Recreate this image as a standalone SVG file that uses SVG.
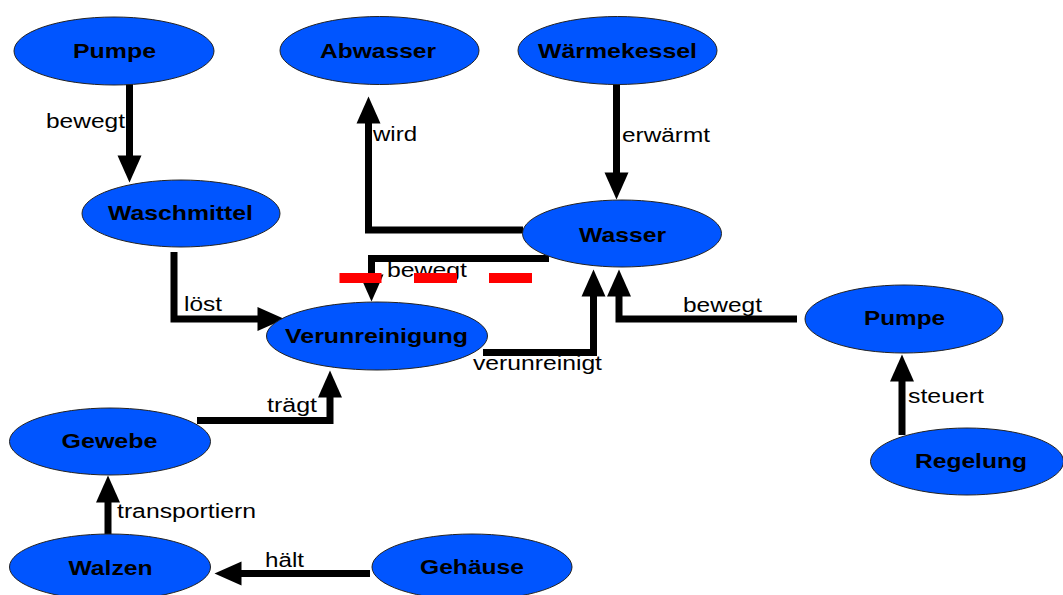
<svg xmlns="http://www.w3.org/2000/svg" width="1063" height="595" viewBox="0 0 1063 595">
  <style>
    .node ellipse { fill: #0055ff; stroke: #222; stroke-width: 1; }
    .node text { font-family: "Liberation Sans", Arial, sans-serif; font-weight: bold; font-size: 21px; fill: #000; }
    .edge { fill: none; stroke: #000; stroke-width: 7; stroke-linejoin: miter; stroke-linecap: butt; marker-end: url(#arrow); }
    .label { font-family: "Liberation Sans", Arial, sans-serif; font-size: 20px; fill: #000; }
    .mark { fill: #ff0000; }
  </style>
  <defs>
    <marker id="arrow" markerUnits="userSpaceOnUse" viewBox="0 -13 28 26" refX="0.5" refY="0" markerWidth="28" markerHeight="26" orient="auto" overflow="visible">
      <path d="M0,-12 L27,0 L0,12 Z" fill="#000"/>
    </marker>
  </defs>
  <rect width="1063" height="595" fill="#fff"/>

  <!-- connectors -->
  <g id="connectors">
    <path class="edge" d="M129.5,84 V156"/>
    <path class="edge" d="M523,230 H368.5 V123"/>
    <path class="edge" d="M616.5,84 V173"/>
    <path class="edge" d="M549,258.5 H371.5 V275"/>
    <path class="edge" d="M174,252 V319 H258"/>
    <path class="edge" d="M483,352.5 H593.5 V296"/>
    <path class="edge" d="M797,319 H619 V296"/>
    <path class="edge" d="M197,420.5 H330 V397"/>
    <path class="edge" d="M108,534 V502"/>
    <path class="edge" d="M370,573.5 H241"/>
    <path class="edge" d="M902,435 V381"/>

    <text class="label" x="46" y="128" textLength="79" lengthAdjust="spacingAndGlyphs">bewegt</text>
    <text class="label" x="373" y="141" textLength="44" lengthAdjust="spacingAndGlyphs">wird</text>
    <text class="label" x="622" y="141.5" textLength="88" lengthAdjust="spacingAndGlyphs">erwärmt</text>
    <text class="label" x="387" y="277" textLength="80" lengthAdjust="spacingAndGlyphs">bewegt</text>
    <text class="label" x="184" y="311" textLength="38" lengthAdjust="spacingAndGlyphs">löst</text>
    <text class="label" x="473" y="370" textLength="129" lengthAdjust="spacingAndGlyphs">verunreinigt</text>
    <text class="label" x="683" y="311.5" textLength="79" lengthAdjust="spacingAndGlyphs">bewegt</text>
    <text class="label" x="267" y="411.5" textLength="50" lengthAdjust="spacingAndGlyphs">trägt</text>
    <text class="label" x="117" y="518" textLength="139" lengthAdjust="spacingAndGlyphs">transportiern</text>
    <text class="label" x="265" y="566.5" textLength="39" lengthAdjust="spacingAndGlyphs">hält</text>
    <text class="label" x="908" y="403" textLength="76" lengthAdjust="spacingAndGlyphs">steuert</text>
  </g>

  <!-- nodes -->
  <g id="pumpe-oben" class="node">
    <ellipse cx="114" cy="51" rx="100" ry="34"/>
    <text x="73" y="58" textLength="83" lengthAdjust="spacingAndGlyphs">Pumpe</text>
  </g>
  <g id="abwasser" class="node">
    <ellipse cx="379.5" cy="50.5" rx="99.5" ry="34"/>
    <text x="320" y="58" textLength="116" lengthAdjust="spacingAndGlyphs">Abwasser</text>
  </g>
  <g id="waermekessel" class="node">
    <ellipse cx="617.5" cy="50.5" rx="99.5" ry="34"/>
    <text x="538" y="58" textLength="159" lengthAdjust="spacingAndGlyphs">Wärmekessel</text>
  </g>
  <g id="waschmittel" class="node">
    <ellipse cx="181" cy="213.5" rx="99" ry="33.5"/>
    <text x="108" y="220" textLength="145" lengthAdjust="spacingAndGlyphs">Waschmittel</text>
  </g>
  <g id="wasser" class="node">
    <ellipse cx="622" cy="233.5" rx="99.5" ry="33.5"/>
    <text x="579" y="241.5" textLength="87" lengthAdjust="spacingAndGlyphs">Wasser</text>
  </g>
  <g id="verunreinigung" class="node">
    <ellipse cx="377" cy="336" rx="110.5" ry="34"/>
    <text x="285" y="343" textLength="183" lengthAdjust="spacingAndGlyphs">Verunreinigung</text>
  </g>
  <g id="pumpe-rechts" class="node">
    <ellipse cx="904" cy="319" rx="99" ry="34"/>
    <text x="864" y="325" textLength="81" lengthAdjust="spacingAndGlyphs">Pumpe</text>
  </g>
  <g id="regelung" class="node">
    <ellipse cx="967" cy="461.5" rx="96.5" ry="33.5"/>
    <text x="915" y="468" textLength="112" lengthAdjust="spacingAndGlyphs">Regelung</text>
  </g>
  <g id="gewebe" class="node">
    <ellipse cx="110" cy="441.5" rx="100.5" ry="33.5"/>
    <text x="61.5" y="448" textLength="96" lengthAdjust="spacingAndGlyphs">Gewebe</text>
  </g>
  <g id="walzen" class="node">
    <ellipse cx="110" cy="567" rx="100.5" ry="33"/>
    <text x="68.5" y="575" textLength="84" lengthAdjust="spacingAndGlyphs">Walzen</text>
  </g>
  <g id="gehaeuse" class="node">
    <ellipse cx="472" cy="567" rx="100" ry="33"/>
    <text x="420" y="574" textLength="104" lengthAdjust="spacingAndGlyphs">Gehäuse</text>
  </g>

  <!-- red dashed marking -->
  <g id="markierung">
    <rect class="mark" x="339.5" y="273" width="42" height="10"/>
    <rect class="mark" x="414" y="273" width="43" height="10"/>
    <rect class="mark" x="489" y="273" width="43" height="10"/>
  </g>
</svg>
